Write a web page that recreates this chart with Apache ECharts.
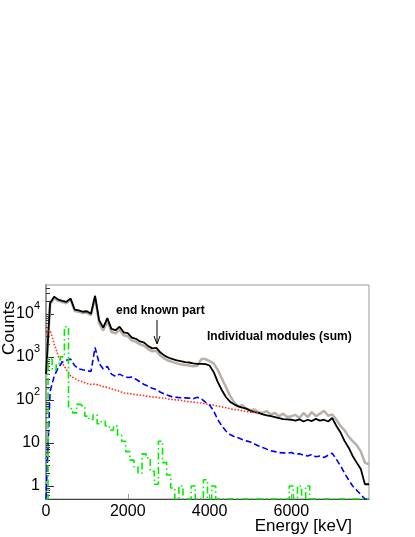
<!DOCTYPE html>
<html>
<head>
<meta charset="utf-8">
<script src="https://cdn.jsdelivr.net/npm/echarts@6/dist/echarts.min.js"></script>
<style>html,body{margin:0;padding:0;background:#fff;}#c{width:415px;height:537px;}</style>
</head>
<body>
<div id="c"></div>
<script>
// Bin energies (keV)
const energies = [0,100,200,300,400,500,600,700,800,900,1000,1100,1200,1300,1400,1500,1600,1700,1800,1900,2000,2100,2200,2300,2400,2500,2600,2700,2800,2900,3000,3100,3200,3300,3400,3500,3600,3700,3800,3900,4000,4100,4200,4300,4400,4500,4600,4700,4800,4900,5000,5100,5200,5300,5400,5500,5600,5700,5800,5900,6000,6100,6200,6300,6400,6500,6600,6700,6800,6900,7000,7100,7200,7300,7400,7500,7600,7700,7800,7900];
// Sum of individual modules (black)
const sumCounts = [398,17800,25100,21400,20000,19000,22900,12600,12000,11200,11500,10000,26300,7080,4790,7940,4470,4170,5010,3720,3550,2820,2630,2290,2140,1780,1580,1620,1260,1070,955,891,832,794,759,741,708,692,692,676,631,447,263,170,117,91,79,71,66,63,56,52,50,46,44,42,40,38,36,35.5,34.7,33.1,35.5,31.6,34.7,32.4,36.3,33.1,34.7,31.6,38,25.1,17.8,11.2,7.9,5.0,3.5,2.5,1.1,1.1];
// Reference (grey)
const refCounts = [316,16600,23400,20000,18700,17700,21400,11700,11200,10500,10700,9330,24500,6030,4080,6760,3800,3550,4260,3170,3020,2400,2240,1950,1820,1510,1350,1380,1070,910,813,758,708,676,646,631,603,620,891,891,794,708,501,316,200,126,89,71,76,63,58,60,52,50,55,46,50,42,48,40,42,45,38,50,40,52,42,48,56,43,46,35,25,20,14,11,8.9,6.3,3.5,3.2];
// Red dotted component
const redCounts = [3550,4170,2000,1050,708,501,363,316,282,263,240,229,234,219,204,195,182,170,158,145,141,138,132,129,126,120,117,115,112,110,105,102,100,98,93,91,89,87,85,81,78,76,72,69,66,63,60,59,56,54,52,51,50];
// Blue dashed component
const blueCounts = [0.5,158,355,562,759,832,891,631,525,501,479,457,1660,708,525,603,398,355,398,355,331,339,302,263,229,209,186,174,151,138,126,117,115,112,112,110,107,115,105,89,76,56,35,25,19,15.8,14.1,13.2,12.0,11.2,10.5,9.5,8.5,7.9,7.2,6.6,6.3,6.0,5.9,5.8,6.0,5.5,5.6,5.2,5.0,5.4,4.8,5.0,4.6,5.2,5.8,4.2,3.0,2.0,1.4,1.0,0.8,0.63,0.5,0.5];
// Green dash-dot component (empty bins shown at the frame bottom, 0.5)
const greenCounts = [0.5,891,501,708,1000,5010,63,50,79,71,42,35,45,28,32,25,20,25,15,11,6.3,4.0,2.8,2.0,5.6,4.5,2.2,1.1,11,3.5,1.8,0.9,0.5,1,0.5,0.5,1,0.5,0.5,1.4,0.5,1,0.5,0.5,0.5,0.5,0.5,0.5,0.5,0.5,0.5,0.5,0.5,0.5,0.5,0.5,0.5,0.5,0.5,0.5,1,0.5,1,0.5,1,0.5,0.5,0.5,0.5,0.5,0.5,0.5,0.5,0.5,0.5,0.5,0.5,0.5,0.5,0.5];
// Axis ticks
const xTicks = [0, 2000, 4000, 6000];
const yMajor = [1, 10, 100, 1000, 10000];
const yMinor = [0.6,0.7,0.8,0.9,2,3,4,5,6,7,8,9,20,30,40,50,60,70,80,90,200,300,400,500,600,700,800,900,2000,3000,4000,5000,6000,7000,8000,9000,20000,30000,40000];

const FONT = 'Liberation Sans, Arial, Helvetica, sans-serif';
function pairs(vals){ return energies.map((e,i)=> (i < vals.length && vals[i] != null) ? [e, vals[i]] : [e, '-']); }

const chart = echarts.init(document.getElementById('c'), null, {renderer:'canvas'});
const yRange = {min:0.5, max:46800};
chart.setOption({
  animation:false,
  backgroundColor:'#fff',
  grid:{left:46, right:46, top:285, bottom:38, show:true, borderColor:'#999', borderWidth:1, backgroundColor:'transparent'},
  xAxis:{
    type:'value', min:0, max:7900, interval:2000,
    axisLine:{lineStyle:{color:'#444', width:1}},
    axisTick:{inside:true, length:5, lineStyle:{color:'#999'}, customValues: xTicks},
    axisLabel:{customValues: xTicks, fontSize:16, color:'#000', fontFamily:FONT, margin:5,
      formatter:function(v){ return String(Math.round(v)); }},
    splitLine:{show:false}
  },
  yAxis:[{
    type:'log', logBase:10, min:yRange.min, max:yRange.max, position:'left',
    axisLine:{show:true, lineStyle:{color:'#999', width:2}},
    axisTick:{inside:true, length:8, customValues:yMajor, lineStyle:{color:'#333'}},
    axisLabel:{customValues:yMajor, margin:6, fontFamily:FONT, color:'#000',
      formatter:function(v){
        if (v < 5) return '{b|1}';
        if (v < 50) return '{b|10}';
        return '{b|10}{s|' + Math.round(Math.log10(v)) + '}';
      },
      rich:{b:{fontSize:16, lineHeight:26, fontFamily:FONT, color:'#000', verticalAlign:'middle'},
            s:{fontSize:11, lineHeight:11, fontFamily:FONT, color:'#000', verticalAlign:'top'}}},
    splitLine:{show:false}
  },{
    type:'log', logBase:10, min:yRange.min, max:yRange.max, position:'left',
    axisLine:{show:false},
    axisTick:{inside:true, length:4, customValues:yMinor, lineStyle:{color:'#333'}},
    axisLabel:{show:false},
    splitLine:{show:false}
  }],
  series:[
    {type:'line', name:'ref', data:pairs(refCounts), showSymbol:false, lineStyle:{color:'#b8b0a8', width:2.5}},
    {type:'line', name:'sum', data:pairs(sumCounts), showSymbol:false, lineStyle:{color:'#000', width:1.8}},
    {type:'line', name:'red', data:pairs(redCounts), showSymbol:false, connectNulls:false, lineStyle:{color:'#ff3a1a', width:1.6, type:[1.6,1.6]}},
    {type:'line', name:'blue', data:pairs(blueCounts), showSymbol:false, lineStyle:{color:'#0000ff', width:1.6, type:[6,3]}},
    {type:'line', name:'green', step:'middle', data:pairs(greenCounts), showSymbol:false, lineStyle:{color:'#00ee00', width:1.6, type:[7,3,1.5,3]}}
  ],
  graphic:[
    {type:'text', left:116, top:305, style:{text:'end known part', font:'bold 12px ' + FONT, fill:'#000'}},
    {type:'line', shape:{x1:157, y1:320, x2:157, y2:343}, style:{stroke:'#000', lineWidth:1}},
    {type:'polyline', shape:{points:[[154,336],[157,344],[160,336]]}, style:{stroke:'#000', lineWidth:1, fill:null}},
    {type:'text', left:207, top:331, style:{text:'Individual modules (sum)', font:'bold 12px ' + FONT, fill:'#000'}},
    {type:'text', x:352, y:526, style:{text:'Energy [keV]', font:'17px ' + FONT, fill:'#000', align:'right', verticalAlign:'middle'}},
    {type:'text', x:9, y:328, rotation:Math.PI/2, style:{text:'Counts', font:'17px ' + FONT, fill:'#000', align:'center', verticalAlign:'middle'}}
  ]
});
</script>
</body>
</html>
